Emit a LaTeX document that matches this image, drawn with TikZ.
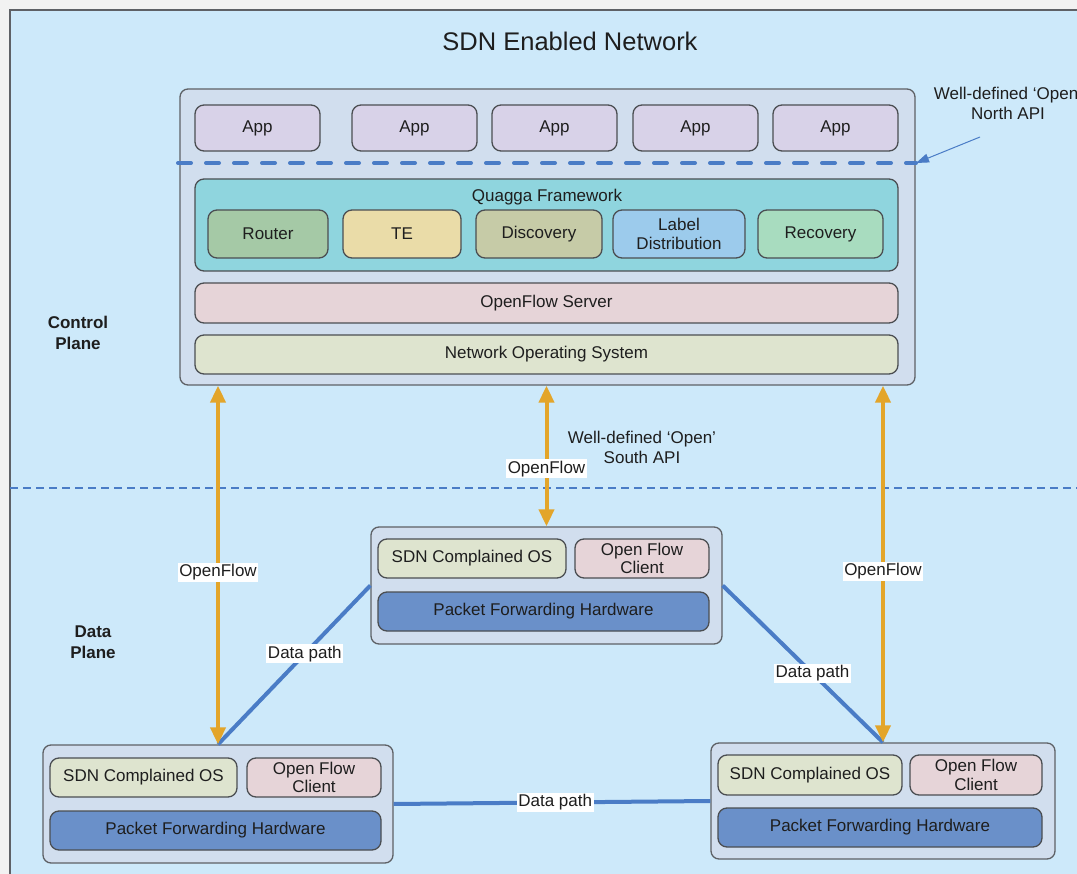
\documentclass[tikz,border=0pt]{standalone}
\usepackage{fontspec}
\setmainfont{Liberation Sans}
\usetikzlibrary{arrows.meta}

\definecolor{skyfill}{HTML}{CDE9FA}
\definecolor{panelfill}{HTML}{D1DEEE}
\definecolor{appfill}{HTML}{D8D2E8}
\definecolor{quaggafill}{HTML}{8FD5DE}
\definecolor{routerfill}{HTML}{A5C9A6}
\definecolor{tefill}{HTML}{EADCA8}
\definecolor{discfill}{HTML}{C6CBA7}
\definecolor{labelfill}{HTML}{9CCBEC}
\definecolor{recfill}{HTML}{A8DCBF}
\definecolor{serverfill}{HTML}{E6D4D8}
\definecolor{osfill}{HTML}{DEE4CF}
\definecolor{hwfill}{HTML}{6A90C9}
\definecolor{edgegray}{HTML}{5E6166}
\definecolor{linkblue}{HTML}{4A7CC6}
\definecolor{flowgold}{HTML}{E3A52A}
\definecolor{ink}{HTML}{1E1E1E}

\tikzset{
  txt/.style={font=\fontsize{17}{20}\selectfont, text=ink},
  panel/.style={draw=edgegray, line width=1.3pt, fill=panelfill, rounded corners=8pt},
  block/.style={txt, draw=edgegray!80!black, line width=1.3pt, rounded corners=9pt,
                align=center, inner sep=0pt},
  flow/.style={flowgold, line width=4pt,
               {Triangle[width=15pt,length=17pt]}-{Triangle[width=15pt,length=17pt]}},
  datapath/.style={linkblue, line width=4pt},
  tag/.style={txt, fill=white, inner sep=1.5pt},
}

\begin{document}
\begin{tikzpicture}[x=1pt, y=-1pt]
  % canvas and outer frame
  \fill[white!95!black] (0,0) rectangle (1077,874);
  \useasboundingbox (0,0) rectangle (1077,874);
  \draw[fill=skyfill, draw=edgegray, line width=1.8pt] (10,10) rectangle (1110,900);

  \node[txt, font=\fontsize{25.5}{30}\selectfont] (title) at (570,41) {SDN Enabled Network};

  % ---------- control plane ----------
  \node[panel, minimum width=735pt, minimum height=296pt] (ctrl) at (547.5,237) {};

  \foreach \i/\cx in {1/257.5, 2/414.5, 3/554.5, 4/695.5, 5/835.5}
    \node[block, fill=appfill, minimum width=125pt, minimum height=46pt] (app\i) at (\cx,128) {App};

  \node[block, fill=quaggafill, minimum width=703pt, minimum height=92pt] (quagga) at (546.5,225) {};
  \node[txt] (qtitle) at (547,197) {Quagga Framework};
  \node[block, fill=routerfill, minimum width=120pt, minimum height=48pt] (router) at (268,234) {Router};
  \node[block, fill=tefill, minimum width=118pt, minimum height=48pt] (te) at (402,234) {TE};
  \node[block, fill=discfill, minimum width=126pt, minimum height=48pt] (disc) at (539,234) {Discovery};
  \node[block, fill=labelfill, minimum width=132pt, minimum height=48pt] (ldist) at (679,234) {Label\\[-1pt]Distribution};
  \node[block, fill=recfill, minimum width=125pt, minimum height=48pt] (recov) at (820.5,234) {Recovery};

  \node[block, fill=serverfill, minimum width=703pt, minimum height=40pt] (ofserver) at (546.5,303) {OpenFlow Server};
  \node[block, fill=osfill, minimum width=703pt, minimum height=39pt] (nos) at (546.5,354.5) {Network Operating System};

  % north API boundary
  \coordinate (nl) at (178,163);
  \coordinate (nr) at (916,163);
  \draw[linkblue, line width=4pt, line cap=round, dash pattern=on 13pt off 15pt] (nl) -- (nr);
  \node[txt, align=center] (north) at (1008,103) {Well-defined ‘Open’\\North API};
  \coordinate (ntail) at (980,137);
  \draw[linkblue, line width=1pt, -{Triangle[width=9pt,length=13pt]}] (ntail) -- (nr);

  \node[txt, font=\bfseries\fontsize{17}{21}\selectfont, align=center] (cplane) at (78,333) {Control\\Plane};

  % control / data boundary
  \coordinate (sl) at (10,488);
  \coordinate (sr) at (1077,488);
  \draw[linkblue, line width=2.2pt, dash pattern=on 8pt off 5pt] (sl) -- (sr);

  \node[txt, font=\bfseries\fontsize{17}{21}\selectfont, align=center] (dplane) at (93,642) {Data\\Plane};

  % ---------- data plane switches ----------
  \node[panel, minimum width=351pt, minimum height=117pt] (mid) at (546.5,585.5) {};
  \node[block, fill=osfill, minimum width=188pt, minimum height=39pt] (midos) at (472,558.5) {SDN Complained OS};
  \node[block, fill=serverfill, minimum width=134pt, minimum height=39pt] (midcl) at (642,558.5) {Open Flow\\[-1.5pt]Client};
  \node[block, fill=hwfill, minimum width=331pt, minimum height=39pt] (midhw) at (543.5,611.5) {Packet Forwarding Hardware};

  \node[panel, minimum width=350pt, minimum height=118pt] (bl) at (218,804) {};
  \node[block, fill=osfill, minimum width=187pt, minimum height=39pt] (blos) at (143.5,777.5) {SDN Complained OS};
  \node[block, fill=serverfill, minimum width=134pt, minimum height=39pt] (blcl) at (314,777.5) {Open Flow\\[-1.5pt]Client};
  \node[block, fill=hwfill, minimum width=331pt, minimum height=39pt] (blhw) at (215.5,830.5) {Packet Forwarding Hardware};

  \node[panel, minimum width=344pt, minimum height=116pt] (br) at (883,801) {};
  \node[block, fill=osfill, minimum width=184pt, minimum height=40pt] (bros) at (810,775) {SDN Complained OS};
  \node[block, fill=serverfill, minimum width=132pt, minimum height=40pt] (brcl) at (976,775) {Open Flow\\[-1.5pt]Client};
  \node[block, fill=hwfill, minimum width=324pt, minimum height=39pt] (brhw) at (880,827.5) {Packet Forwarding Hardware};

  % data paths
  \draw[datapath] (mid.west) -- node[tag, pos=0.43] (dp1) {Data path} (bl.north);
  \draw[datapath] (mid.east) -- node[tag, pos=0.56] (dp2) {Data path} (br.north);
  \draw[datapath] (bl.east) -- node[tag, pos=0.51] (dp3) {Data path} (br.west);

  % OpenFlow channels
  \draw[flow] (ctrl.south -| bl.north) -- node[tag, pos=0.52] (of1) {OpenFlow} (bl.north);
  \draw[flow] (ctrl.south -| mid.north) -- node[tag, pos=0.59] (of2) {OpenFlow} (mid.north);
  \draw[flow] (ctrl.south -| br.north) -- node[tag, pos=0.52] (of3) {OpenFlow} (br.north);

  \node[txt, align=center] (south) at (642,447) {Well-defined ‘Open’\\South API};
\end{tikzpicture}
\end{document}
